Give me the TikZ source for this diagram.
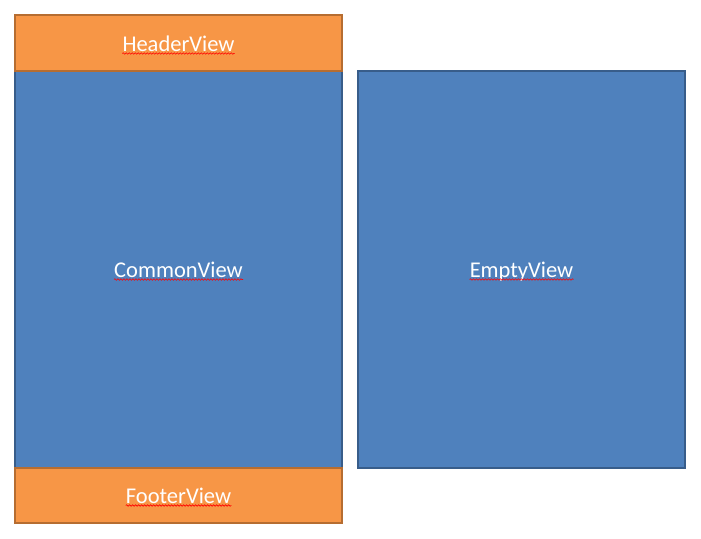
\documentclass[tikz,border=0pt]{standalone}
\usepackage{fontspec}
\setmainfont{Carlito}
\usetikzlibrary{decorations.pathmorphing}
\definecolor{orfill}{HTML}{F79646}
\definecolor{ordraw}{HTML}{B66D31}
\definecolor{blfill}{HTML}{4F81BD}
\definecolor{bldraw}{HTML}{385D8A}
\tikzset{
  orbox/.style={fill=orfill,draw=ordraw,line width=1.3pt},
  blbox/.style={fill=blfill,draw=bldraw,line width=1.3pt},
  lbl/.style={text=white,font=\fontsize{22.5}{24}\selectfont,inner sep=0pt,anchor=base},
  squig/.style={draw=red,line width=0.6pt,decorate,decoration={snake,amplitude=0.8pt,segment length=3pt}}
}
\begin{document}
\begin{tikzpicture}[x=1pt,y=-1pt]
\useasboundingbox (0,0) rectangle (701,538);
\draw[blbox] (15,71) rectangle (342,468);
\draw[orbox] (15,15) rectangle (342,71);
\draw[orbox] (15,468) rectangle (342,523);
\draw[blbox] (358,71) rectangle (685,468);
\node[lbl] (hv) at (178.5,51) {HeaderView};
\node[lbl] (cv) at (178.5,277) {CommonView};
\node[lbl] (fv) at (178.5,503) {FooterView};
\node[lbl] (ev) at (521.5,277) {EmptyView};
\foreach \n in {hv,cv,fv,ev}{
  \draw[squig] ([yshift=-2.5pt]\n.base west) -- ([yshift=-2.5pt]\n.base east);
}
\end{tikzpicture}
\end{document}
